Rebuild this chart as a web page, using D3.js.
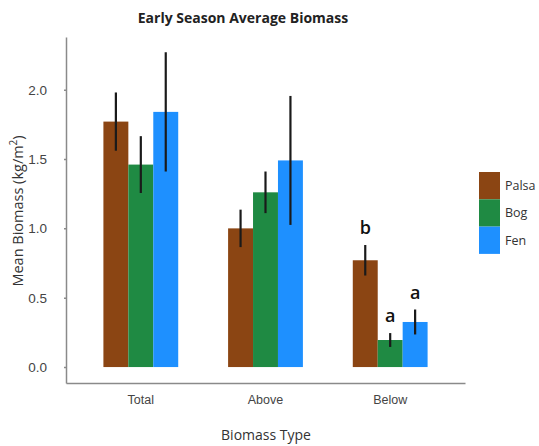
<!DOCTYPE html>
<html>
<head>
<meta charset="utf-8">
<script src="https://cdn.jsdelivr.net/npm/d3@7"></script>
<style>
  body { margin: 0; background: #fff; }
  svg { display: block; font-family: "Open Sans", sans-serif; }
  .axis path, .axis line { stroke: #8a8a8a; stroke-width: 1.5; }
  .axis text { fill: #444; font-size: 12.5px; }
  .axis.yax text { font-size: 13.5px; }
</style>
</head>
<body>
<div id="chart"></div>
<script>
const categories = ['Total', 'Above', 'Below'];
const sites = ['Palsa', 'Bog', 'Fen'];
const colors = ['#8b4513', '#1f8a43', '#1e90ff'];
const palsaMean = [1.77, 1.00, 0.77];
const bogMean = [1.46, 1.26, 0.195];
const fenMean = [1.84, 1.49, 0.325];
const palsaErr = [0.21, 0.135, 0.11];
const bogErr = [0.205, 0.15, 0.05];
const fenErr = [0.43, 0.465, 0.09];
const yTicks = [0, 0.5, 1.0, 1.5, 2.0];
// significance letters for the Below group
const sigLetters = [['', '', ''], ['', '', ''], ['b', 'a', 'a']];

const means = [palsaMean, bogMean, fenMean];
const errs = [palsaErr, bogErr, fenErr];
const data = [];
categories.forEach((c, ci) => {
  sites.forEach((s, si) => {
    data.push({ cat: c, site: s, mean: means[si][ci], err: errs[si][ci], letter: sigLetters[ci][si] });
  });
});

const width = 539, height = 446;
const svg = d3.select('#chart').append('svg')
  .attr('width', width)
  .attr('height', height);

const x = d3.scaleBand()
  .domain(categories)
  .range([66, 465])
  .paddingInner(0.4)
  .paddingOuter(0.3);

const xSub = d3.scaleBand()
  .domain(sites)
  .range([0, x.bandwidth()]);

const y = d3.scaleLinear()
  .domain([-0.115, 2.38])
  .range([383, 37]);

const color = d3.scaleOrdinal().domain(sites).range(colors);

// Axes
svg.append('g')
  .attr('class', 'axis yax')
  .attr('transform', 'translate(66,0)')
  .call(d3.axisLeft(y).tickValues(yTicks).tickFormat(d3.format('.1f')).tickSizeInner(2).tickSizeOuter(0).tickPadding(17));

svg.append('g')
  .attr('class', 'axis')
  .attr('transform', 'translate(0,383)')
  .call(d3.axisBottom(x).tickSizeInner(0).tickSizeOuter(0).tickPadding(12));

// Bars
const groups = svg.selectAll('g.cat')
  .data(categories)
  .enter()
  .append('g')
  .attr('class', 'cat')
  .attr('transform', d => `translate(${x(d)},0)`);

groups.selectAll('rect')
  .data(c => data.filter(d => d.cat === c))
  .enter()
  .append('rect')
  .attr('x', d => xSub(d.site))
  .attr('y', d => y(d.mean))
  .attr('width', xSub.bandwidth())
  .attr('height', d => y(0) - y(d.mean))
  .attr('fill', d => color(d.site));

// Error bars
groups.selectAll('line.err')
  .data(c => data.filter(d => d.cat === c))
  .enter()
  .append('line')
  .attr('class', 'err')
  .attr('x1', d => xSub(d.site) + xSub.bandwidth() / 2)
  .attr('x2', d => xSub(d.site) + xSub.bandwidth() / 2)
  .attr('y1', d => y(d.mean + d.err))
  .attr('y2', d => y(d.mean - d.err))
  .attr('stroke', '#1a1a1a')
  .attr('stroke-width', 2.2);

// Letters
groups.selectAll('text.sig')
  .data(c => data.filter(d => d.cat === c && d.letter))
  .enter()
  .append('text')
  .attr('class', 'sig')
  .attr('x', d => xSub(d.site) + xSub.bandwidth() / 2)
  .attr('y', d => y(d.mean + d.err) - 11)
  .attr('text-anchor', 'middle')
  .attr('font-size', 18)
  .attr('font-weight', 600)
  .attr('fill', '#111')
  .text(d => d.letter);

// Title
svg.append('text')
  .attr('x', 243)
  .attr('y', 23)
  .attr('text-anchor', 'middle')
  .attr('font-size', 14)
  .attr('font-weight', 700)
  .attr('fill', '#222')
  .text('Early Season Average Biomass');

// Axis titles
const yLabel = svg.append('text')
  .attr('transform', 'translate(23,211) rotate(-90)')
  .attr('text-anchor', 'middle')
  .attr('font-size', 14.5)
  .attr('fill', '#333');
yLabel.append('tspan').text('Mean Biomass (kg/m');
yLabel.append('tspan').attr('dy', -6).attr('font-size', 10).text('2');
yLabel.append('tspan').attr('dy', 6).text(')');

svg.append('text')
  .attr('x', 266)
  .attr('y', 440)
  .attr('text-anchor', 'middle')
  .attr('font-size', 14)
  .attr('fill', '#333')
  .text('Biomass Type');

// Legend
const legend = svg.append('g').attr('transform', 'translate(479,172)');
const lg = legend.selectAll('g')
  .data(sites)
  .enter()
  .append('g')
  .attr('transform', (d, i) => `translate(0,${i * 27.3})`);
lg.append('rect')
  .attr('width', 21)
  .attr('height', 27.3)
  .attr('fill', d => color(d));
lg.append('text')
  .attr('x', 26)
  .attr('y', 18)
  .attr('font-size', 12.5)
  .attr('fill', '#333')
  .text(d => d);
</script>
</body>
</html>
